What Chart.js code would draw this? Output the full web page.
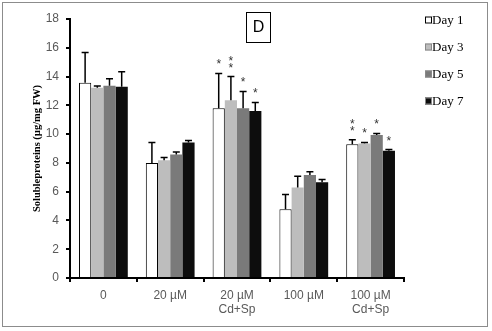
<!DOCTYPE html>
<html><head><meta charset="utf-8">
<script src="https://cdn.jsdelivr.net/npm/chart.js@4/dist/chart.umd.min.js"></script>
<style>
html,body{margin:0;padding:0;background:#fff;}
#wrap{position:relative;width:492px;height:331px;}
#frame{position:absolute;left:2px;top:2px;width:486px;height:325px;border:1px solid #8c8c8c;box-sizing:border-box;pointer-events:none;}
canvas{position:absolute;left:0;top:0;}
</style></head>
<body><div id="wrap"><canvas id="c" width="492" height="331"></canvas><div id="frame"></div></div>
<script>
const categories = [["0"], ["20 µM"], ["20 µM","Cd+Sp"], ["100 µM"], ["100 µM","Cd+Sp"]];
const seriesLabels = ["Day 1","Day 3","Day 5","Day 7"];
const day1 = [13.57, 8.0, 11.79, 4.78, 9.3];
const day3 = [13.22, 8.19, 12.35, 6.29, 9.35];
const day5 = [13.36, 8.59, 11.79, 7.15, 9.93];
const day7 = [13.29, 9.42, 11.6, 6.66, 8.84];
const err1 = [2.11, 1.42, 2.43, 1.02, 0.3];
const err3 = [0.12, 0.19, 1.65, 0.79, 0.07];
const err5 = [0.49, 0.16, 1.18, 0.23, 0.12];
const err7 = [1.05, 0.14, 0.6, 0.19, 0.09];
const stars1 = [0, 0, 1, 0, 2];
const stars3 = [0, 0, 2, 0, 1];
const stars5 = [0, 0, 1, 0, 1];
const stars7 = [0, 0, 1, 0, 1];
const yTicks = [0,2,4,6,8,10,12,14,16,18];

const fills = ['#ffffff','#bdbdbd','#7a7a7a','#0d0d0d'];
const errs = [err1, err3, err5, err7];
const stars = [stars1, stars3, stars5, stars7];

const errPlugin = {
  id:'errbars',
  afterDatasetsDraw(chart){
    const ctx = chart.ctx, y = chart.scales.y;
    ctx.save();
    chart.data.datasets.forEach((ds, di) => {
      const meta = chart.getDatasetMeta(di);
      meta.data.forEach((bar, i) => {
        const v = ds.data[i], e = errs[di][i];
        const yTop = y.getPixelForValue(v + e);
        const x = bar.x;
        ctx.strokeStyle = '#000'; ctx.lineWidth = 1.5;
        ctx.beginPath(); ctx.moveTo(x, bar.y); ctx.lineTo(x, yTop);
        ctx.moveTo(x - 3.5, yTop); ctx.lineTo(x + 3.5, yTop); ctx.stroke();
        const n = stars[di][i];
        ctx.fillStyle = '#333'; ctx.font = '12px "Liberation Sans"'; ctx.textAlign = 'center'; ctx.textBaseline = 'alphabetic';
        for (let k = 0; k < n; k++) {
          ctx.fillText('*', x, yTop - 12 - k * 7 + 7);
        }
      });
    });
    ctx.restore();
  }
};

const extrasPlugin = {
  id:'extras',
  afterDraw(chart){
    const ctx = chart.ctx;
    ctx.save();
    ctx.strokeStyle = '#000'; ctx.lineWidth = 1;
    ctx.strokeRect(246.5, 12.5, 24, 30);
    ctx.fillStyle = '#000'; ctx.font = '16px "Liberation Sans"'; ctx.textAlign='center'; ctx.textBaseline='middle';
    ctx.fillText('D', 258.5, 28);
    ctx.font = '13px "Liberation Serif"'; ctx.textAlign='left';
    chart.data.datasets.forEach((ds, i) => {
      const cy = 20 + i * 27;
      ctx.fillStyle = ds.backgroundColor;
      ctx.fillRect(425, cy - 3.5, 7, 7);
      ctx.strokeStyle = i === 0 ? '#000' : '#888'; ctx.lineWidth = 1;
      ctx.strokeRect(425.5, cy - 3, 6, 6);
      ctx.fillStyle = '#000';
      ctx.fillText(ds.label, 432, cy + 1);
    });
    ctx.restore();
  }
};

new Chart(document.getElementById('c'), {
  type:'bar',
  data:{
    labels: categories,
    datasets: [day1, day3, day5, day7].map((d, i) => ({
      label: seriesLabels[i], data: d, backgroundColor: fills[i],
      borderColor: '#000', borderWidth: i === 0 ? 1 : 0,
      barPercentage: 1.0, categoryPercentage: 0.73
    }))
  },
  options:{
    responsive:false, animation:false, devicePixelRatio:1,
    layout:{padding:{top:19, right:88, left:0, bottom:0}},
    plugins:{legend:{display:false}, tooltip:{enabled:false}},
    scales:{
      x:{
        grid:{display:true, drawOnChartArea:false, drawTicks:true, tickLength:4, offset:true, color:'#000', lineWidth:2},
        border:{display:true, color:'#000', width:2},
        ticks:{color:'#595959', font:{family:'"Liberation Sans"', size:12}, padding:6, maxRotation:0},
        afterFit(s){ s.height = 53; }
      },
      y:{
        min:0, max:18,
        afterBuildTicks(s){ s.ticks = yTicks.map(v => ({value:v})); },
        grid:{display:true, drawOnChartArea:false, drawTicks:true, tickLength:4, color:'#000', lineWidth:2},
        border:{display:true, color:'#000', width:2},
        ticks:{color:'#595959', font:{family:'"Liberation Sans"', size:12}, padding:7},
        title:{display:true, text:'Solubleproteins (µg/mg FW)', color:'#000', font:{family:'"Liberation Serif"', size:10.5, weight:'bold'}, padding:{top:31, bottom:0}},
        afterFit(s){ s.width = 70; }
      }
    }
  },
  plugins:[errPlugin, extrasPlugin]
});
</script></body></html>
